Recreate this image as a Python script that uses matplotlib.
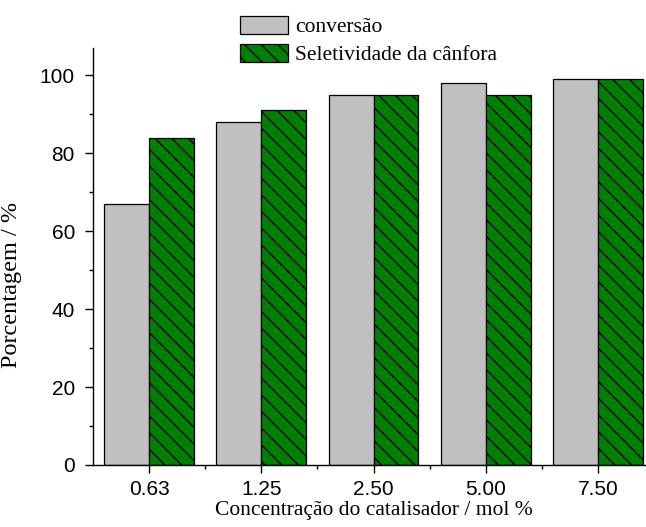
import numpy as np
import matplotlib.pyplot as plt

# catalyst loading (mol %) and results
concentracoes = ['0.63', '1.25', '2.50', '5.00', '7.50']
conversao = [67, 88, 95, 98, 99]
seletividade = [84, 91, 95, 95, 99]

plt.rcParams['hatch.linewidth'] = 1.0

fig = plt.figure(figsize=(6.46, 5.27), dpi=100)
ax = fig.add_axes([93 / 646, 62 / 527, 561 / 646, 417 / 527])

x = np.arange(len(concentracoes))
w = 0.4
b1 = ax.bar(x - w / 2, conversao, w, color='#c0c0c0', edgecolor='black',
            linewidth=0.9, label='conversão')
b2 = ax.bar(x + w / 2, seletividade, w, color='#008000', edgecolor='black',
            linewidth=0.9, hatch='\\\\', label='Seletividade da cânfora')

ax.set_xlim(-0.5, 4.5)
ax.set_ylim(0, 107)
ax.set_xticks(x)
ax.set_xticklabels(concentracoes)
ax.set_xticks(x[:-1] + 0.5, minor=True)
ax.set_yticks(range(0, 101, 20))
ax.set_yticks(range(10, 101, 20), minor=True)
ax.tick_params(which='major', direction='out', length=6, width=1,
               labelsize=15)
ax.tick_params(axis='x', which='major', pad=5)
ax.tick_params(axis='y', which='major', pad=7)
ax.tick_params(which='minor', direction='out', length=3, width=1)
for lbl in ax.get_xticklabels() + ax.get_yticklabels():
    lbl.set_family('Liberation Sans')

ax.spines['top'].set_visible(False)
ax.spines['right'].set_visible(False)
ax.spines['left'].set_linewidth(1)
ax.spines['bottom'].set_linewidth(1)

ax.set_xlabel('Concentração do catalisador / mol %', family='Liberation Serif',
              fontsize=15.5, labelpad=1)
ax.set_ylabel('Porcentagem / %', family='Liberation Serif', fontsize=17.5)
ax.yaxis.set_label_coords(-0.127, 0.432)

fig.legend(handles=[b1, b2], loc='upper left',
           bbox_to_anchor=(240 / 646, 1 - 16 / 527),
           frameon=False, prop={'family': 'Liberation Serif', 'size': 15.5},
           handlelength=2.25, handleheight=0.92, handletextpad=0.3,
           labelspacing=0.3, borderpad=0, borderaxespad=0)

fig.savefig('out.png', dpi=100)
